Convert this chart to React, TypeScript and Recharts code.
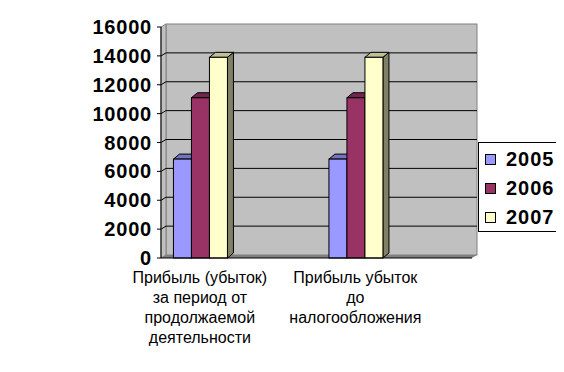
import React from "react";
import { BarChart, Bar, XAxis, YAxis, ReferenceArea, Legend } from "recharts";

// category labels, already broken into lines the way Excel wrapped them
const categoryLines: string[][] = [
  ["Прибыль (убыток)", "за период от", "продолжаемой", "деятельности"],
  [],
  ["Прибыль убыток", "до", "налогообложения"],
  [],
];
const years = ["2005", "2006", "2007"];
const values2005 = [6850, null, 6850, null];
const values2006 = [11100, null, 11100, null];
const values2007 = [13900, null, 13900, null];
const yTicks = [0, 2000, 4000, 6000, 8000, 10000, 12000, 14000, 16000];
const xBounds = [0, 1, 2, 3, 4];

const FRONT = ["#9999FF", "#993366", "#FFFFCC"];
const TOP = ["#7373BF", "#73264D", "#BFBF99"];
const SIDE = ["#4D4D80", "#4D1A33", "#808066"];

const FONT = "Arial, 'Liberation Sans', sans-serif";
const WD = 5; // wall depth
const WH = 3;
const BD = 6; // bar depth
const BH = 5;

const data = categoryLines.map((lines, i) => ({
  name: lines.join(" "),
  y2005: values2005[i],
  y2006: values2006[i],
  y2007: values2007[i],
}));
const series = [values2005, values2006, values2007];

const Walls = (props: any) => {
  const { x, y, width, height } = props;
  const bottom = y + height;
  const yMax = yTicks[yTicks.length - 1];
  const inner = yTicks.filter((v) => v > 0 && v < yMax);
  return (
    <g>
      <rect x={x + WD} y={y - WH} width={width} height={height} fill="#C0C0C0" stroke="#808080" />
      <polygon
        points={`${x},${y} ${x + WD},${y - WH} ${x + WD},${bottom - WH} ${x},${bottom}`}
        fill="#C0C0C0"
        stroke="#808080"
      />
      {inner.map((v) => {
        const yy = y + height * (1 - v / yMax);
        return (
          <g key={v}>
            <line x1={x} y1={yy} x2={x + WD} y2={yy - WH} stroke="#000" />
            <line x1={x + WD} y1={yy - WH} x2={x + WD + width} y2={yy - WH} stroke="#000" />
          </g>
        );
      })}
      <polygon
        points={`${x},${bottom} ${x + WD},${bottom - WH} ${x + WD + width},${bottom - WH} ${x + width},${bottom}`}
        fill="#808080"
      />
    </g>
  );
};

const Bar3D = (props: any) => {
  const { x, y, width, height, idx } = props;
  if (!(height > 0)) return null;
  const r = x + width;
  const b = y + height;
  return (
    <g stroke="#000" strokeWidth={1}>
      <polygon points={`${r},${y} ${r + BD},${y - BH} ${r + BD},${b - BH} ${r},${b}`} fill={SIDE[idx]} />
      <polygon points={`${x},${y} ${x + BD},${y - BH} ${r + BD},${y - BH} ${r},${y}`} fill={TOP[idx]} />
      <rect x={x} y={y} width={width} height={height} fill={FRONT[idx]} />
    </g>
  );
};

const CategoryTick = ({ x, y, payload }: any) => {
  const lines = categoryLines[payload.index] || [];
  return (
    <g>
      {lines.map((t, i) => (
        <text
          key={i}
          x={x}
          y={y + 18 + i * 20}
          textAnchor="middle"
          dominantBaseline="central"
          fontFamily={FONT}
          fontSize={16}
          fill="#000"
        >
          {t}
        </text>
      ))}
    </g>
  );
};

const LegendBox = () => (
  <div
    style={{
      width: 77,
      height: 86,
      border: "1px solid #000",
      background: "#fff",
      paddingTop: 2,
      boxSizing: "content-box",
    }}
  >
    {years.map((yr, i) => (
      <div key={yr} style={{ display: "flex", alignItems: "center", height: 29 }}>
        <div
          style={{
            width: 9,
            height: 9,
            marginLeft: 6,
            border: "1px solid #000",
            background: FRONT[i],
          }}
        />
        <span
          style={{
            marginLeft: 10,
            fontFamily: FONT,
            fontWeight: "bold",
            fontSize: 20,
            letterSpacing: 1,
            color: "#000",
          }}
        >
          {yr}
        </span>
      </div>
    ))}
  </div>
);

export default function App() {
  return (
    <BarChart
      width={556}
      height={364}
      data={data}
      margin={{ top: 19, right: 92, bottom: 13, left: 0 }}
      barCategoryGap="16%"
      barGap={0}
    >
      <XAxis
        xAxisId="axisA"
        type="number"
        domain={[0, 4]}
        ticks={xBounds}
        tick={false}
        height={1}
        tickSize={5}
        axisLine={{ stroke: "#000" }}
        tickLine={{ stroke: "#000" }}
      />
      <XAxis
        xAxisId="axisB"
        dataKey="name"
        height={100}
        axisLine={false}
        tickLine={false}
        tickSize={0}
        tickMargin={0}
        interval={0}
        tick={<CategoryTick />}
      />
      <YAxis
        width={153}
        domain={[0, 16000]}
        ticks={yTicks}
        interval={0}
        tickSize={4}
        tickMargin={5}
        axisLine={{ stroke: "#000" }}
        tickLine={{ stroke: "#000" }}
        tick={{ fill: "#000", fontFamily: FONT, fontWeight: "bold", fontSize: 20, letterSpacing: 0.8 }}
      />
      <ReferenceArea
        xAxisId="axisA"
        y1={0}
        y2={16000}
        shape={<Walls />}
        ifOverflow="visible"
      />
      {series.map((s, i) => (
        <Bar
          key={years[i]}
          xAxisId="axisB"
          dataKey={`y${years[i]}`}
          name={years[i]}
          fill={FRONT[i]}
          isAnimationActive={false}
          shape={(p: any) => <Bar3D {...p} idx={i} />}
        />
      ))}
      <Legend
        layout="vertical"
        align="center"
        verticalAlign="middle"
        content={<LegendBox />}
        wrapperStyle={{ left: 470, top: 134, width: 79, height: 88 }}
      />
    </BarChart>
  );
}
